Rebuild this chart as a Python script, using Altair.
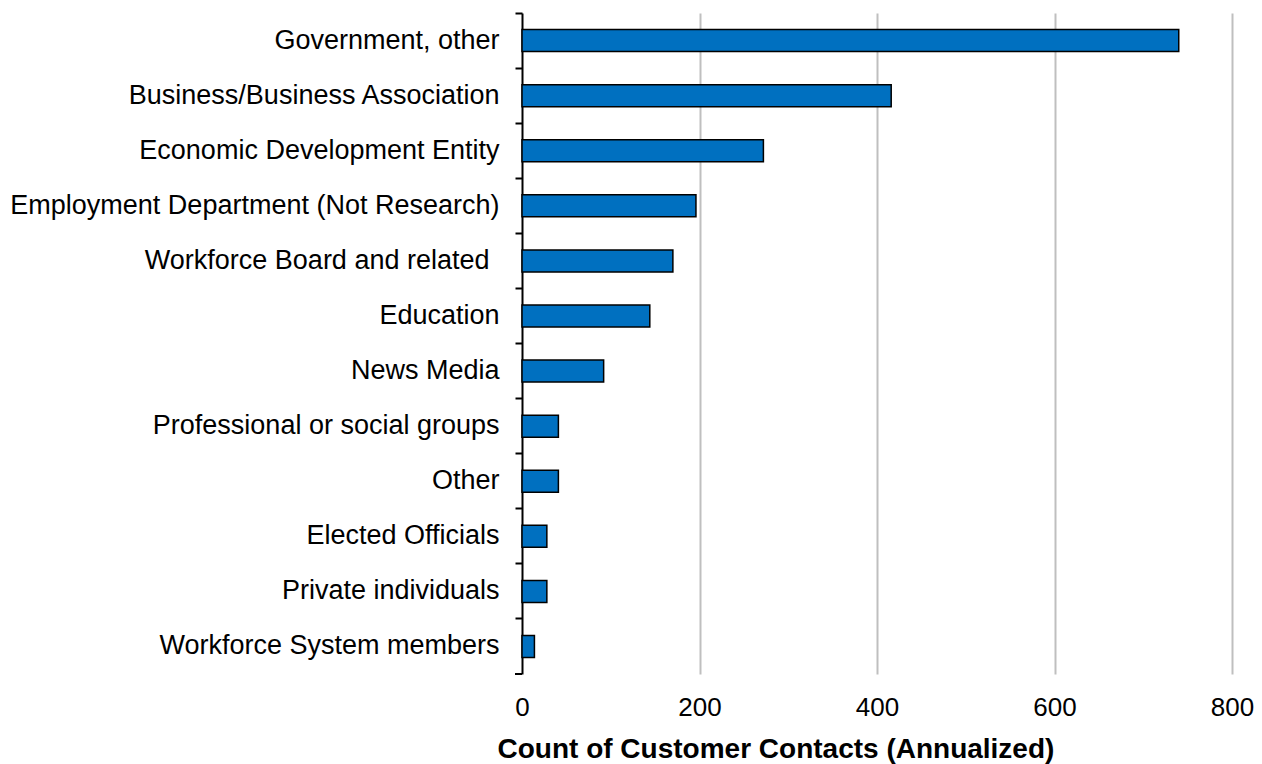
import altair as alt
import pandas as pd

categories = [
    "Government, other",
    "Business/Business Association",
    "Economic Development Entity",
    "Employment Department (Not Research)",
    "Workforce Board and related ",
    "Education",
    "News Media",
    "Professional or social groups",
    "Other",
    "Elected Officials",
    "Private individuals",
    "Workforce System members",
]
values = [740, 416, 272, 196, 170, 144, 92, 41, 41, 28, 28, 14]

df = pd.DataFrame({"category": categories, "value": values})

W, H = 710, 661
FONT = "Liberation Sans"

y_enc = alt.Y(
    "category:N",
    sort=categories,
    scale=alt.Scale(paddingInner=0, paddingOuter=0),
    axis=alt.Axis(
        title=None,
        bandPosition=0,
        domainColor="black",
        domainWidth=2,
        tickColor="black",
        tickWidth=2,
        tickSize=7,
        labelFont=FONT,
        labelFontSize=27,
        labelColor="black",
        labelPadding=alt.ExprRef("indexof(datum.label, 'related') >= 0 ? 26 : 16"),
        labelLimit=700,
        grid=False,
    ),
)

bars = alt.Chart(df).mark_bar(
    size=22, color="#0070C0", stroke="black", strokeWidth=1.5
).encode(
    x=alt.X(
        "value:Q",
        scale=alt.Scale(domain=[0, 800], nice=False),
        axis=alt.Axis(
            values=[0, 200, 400, 600, 800],
            title="Count of Customer Contacts (Annualized)",
            titleFont=FONT,
            titleFontSize=28,
            titleFontWeight="bold",
            titleColor="black",
            titleAlign="left",
            titleAnchor="start",
            titleX=-25,
            titlePadding=15,
            labelFont=FONT,
            labelFontSize=26,
            labelColor="black",
            labelPadding=20,
            labelFlush=False,
            domain=False,
            ticks=False,
            grid=True,
            gridColor="#BFBFBF",
            gridWidth=2,
            gridOpacity=alt.ExprRef("datum.value == 0 ? 0 : 1"),
        ),
    ),
    y=y_enc,
)

bottom_tick = alt.Chart(df).mark_rule(color="black", strokeWidth=2).encode(
    x=alt.value(-7), x2=alt.value(0), y=alt.value(H)
)

chart = alt.layer(bars, bottom_tick).properties(
    width=W,
    height=H,
    autosize=alt.AutoSizeParams(type="none"),
    padding={"left": 522, "top": 13, "right": 30, "bottom": 90},
).configure_view(stroke=None)

chart.save("out.html", embed_options={"renderer": "svg", "actions": False})
